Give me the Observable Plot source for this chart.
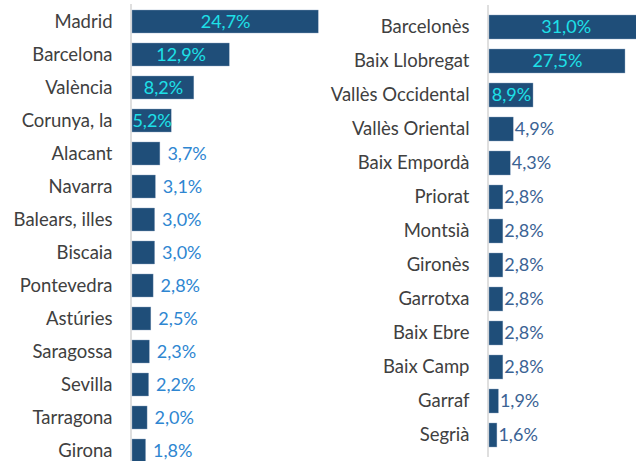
<!DOCTYPE html>
<html>
<head>
<meta charset="utf-8">
<script src="https://cdn.jsdelivr.net/npm/d3@7"></script>
<script src="https://cdn.jsdelivr.net/npm/@observablehq/plot@0.6"></script>
<style>
  html, body { margin: 0; padding: 0; background: #fff; overflow: hidden; }
  #wrap { position: relative; width: 636px; height: 461px; overflow: hidden; }
  #left, #right { position: absolute; top: 0; }
  #left { left: 0; }
  #right { left: 325px; }
  svg { overflow: hidden; }
</style>
</head>
<body>
<div id="wrap"><div id="left"></div><div id="right"></div></div>
<script>
const provinces = ["Madrid","Barcelona","València","Corunya, la","Alacant","Navarra","Balears, illes","Biscaia","Pontevedra","Astúries","Saragossa","Sevilla","Tarragona","Girona"];
const provinceValues = [24.7,12.9,8.2,5.2,3.7,3.1,3.0,3.0,2.8,2.5,2.3,2.2,2.0,1.8];

const comarques = ["Barcelonès","Baix Llobregat","Vallès Occidental","Vallès Oriental","Baix Empordà","Priorat","Montsià","Gironès","Garrotxa","Baix Ebre","Baix Camp","Garraf","Segrià"];
const comarcaValues = [31.0,27.5,8.9,4.9,4.3,2.8,2.8,2.8,2.8,2.8,2.8,1.9,1.6];

const fmt = v => v.toFixed(1).replace(".", ",") + "%";
const FONT = "Lato, 'Open Sans', sans-serif";
const BAR = "#1f4e79";
const CYAN = "#1ee0e8";

function chart({names, values, width, marginLeft, marginTop, marginBottom, xDomain, xRange, yRange, insideMin, outColor, outDx}) {
  const data = names.map((n, i) => ({name: n, v: values[i]}));
  return Plot.plot({
    width, height: 461,
    marginLeft, marginRight: 0, marginTop, marginBottom,
    style: {fontFamily: FONT, fontSize: "18px", background: "transparent"},
    x: {domain: xDomain, range: xRange, axis: null},
    y: {domain: names, range: yRange, paddingInner: 0.3, paddingOuter: 0.1, label: null},
    marks: [
      Plot.ruleX([0], {stroke: "#d4d4d4", strokeWidth: 1.5, dx: -1.5}),
      Plot.barX(data, {x: "v", y: "name", fill: BAR, stroke: "#8fa6c2", strokeWidth: 0.4}),
      Plot.text(data.filter(d => d.v >= insideMin), {x: d => d.v / 2, y: "name", text: d => fmt(d.v), fill: CYAN, fontSize: 18}),
      Plot.text(data.filter(d => d.v < insideMin), {x: "v", y: "name", text: d => fmt(d.v), fill: outColor, textAnchor: "start", dx: outDx, fontSize: 18}),
      Plot.axisY({tickSize: 0, tickPadding: 20, fontSize: 18.5, color: "#404040", label: null})
    ]
  });
}

document.getElementById("left").append(chart({
  names: provinces, values: provinceValues, width: 325,
  marginLeft: 132, marginTop: 4, marginBottom: 0,
  xDomain: [0, 25], xRange: [132, 132 + 25 * 7.54],
  yRange: [5.6, 465.7], insideMin: 5, outColor: "#2e86d1", outDx: 7
}));

document.getElementById("right").append(chart({
  names: comarques, values: comarcaValues, width: 311,
  marginLeft: 164, marginTop: 5, marginBottom: 4,
  xDomain: [0, 30], xRange: [164, 164 + 30 * 4.945],
  yRange: [6.4, 454.7], insideMin: 5, outColor: "#3b6394", outDx: 1
}));
</script>
</body>
</html>
